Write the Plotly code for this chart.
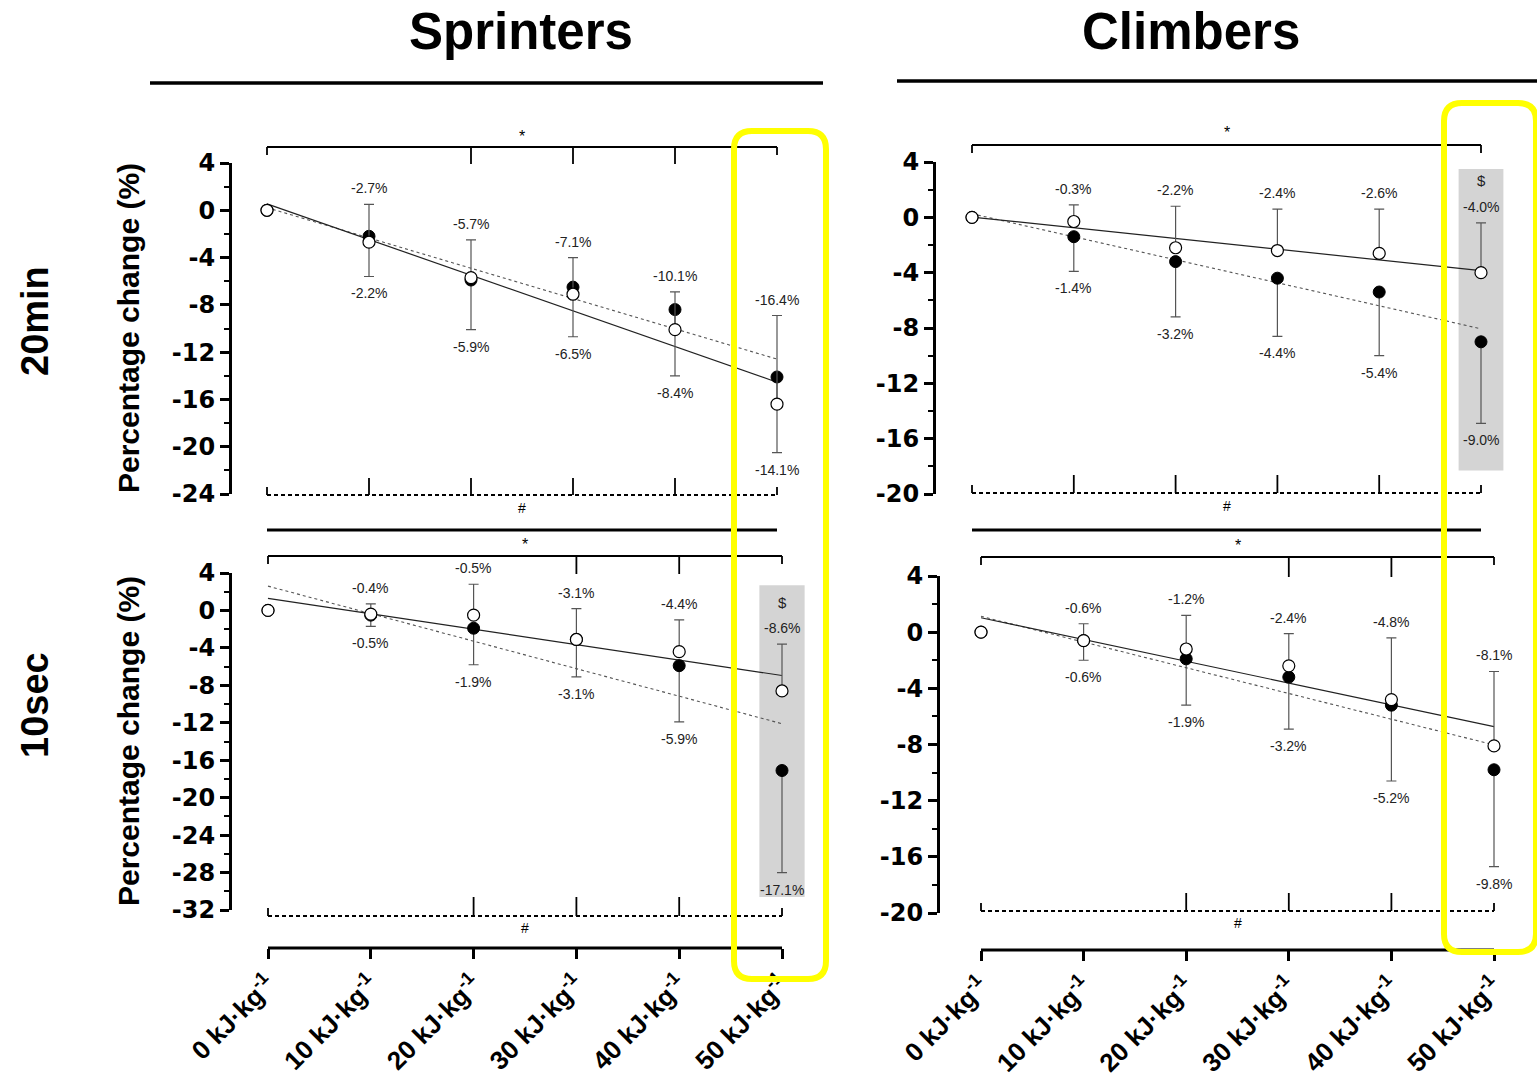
import numpy as np
import plotly.graph_objects as go

W, H = 1537, 1081

# ---------------- data ----------------
energy = [0, 10, 20, 30, 40, 50]
energy_ticktext = [f"{e} kJ·kg<sup>-1</sup>" for e in energy]

group_titles = ["Sprinters", "Climbers"]
test_titles = ["20min", "10sec"]
y_title = "Percentage change (%)"

# Sprinters, 20-min test
spr20_open = [0.0, -2.7, -5.7, -7.1, -10.1, -16.4]
spr20_open_sd = [0.0, 3.2, 3.2, 3.1, 3.2, 7.5]
spr20_filled = [0.0, -2.2, -5.9, -6.5, -8.4, -14.1]
spr20_filled_sd = [0.0, 3.4, 4.2, 4.2, 5.6, 6.4]

# Climbers, 20-min test
clm20_open = [0.0, -0.3, -2.2, -2.4, -2.6, -4.0]
clm20_open_sd = [0.0, 1.2, 3.0, 3.0, 3.2, 3.6]
clm20_filled = [0.0, -1.4, -3.2, -4.4, -5.4, -9.0]
clm20_filled_sd = [0.0, 2.5, 4.0, 4.2, 4.6, 5.9]

# Sprinters, 10-sec test
spr10_open = [0.0, -0.4, -0.5, -3.1, -4.4, -8.6]
spr10_open_sd = [0.0, 1.1, 3.3, 3.3, 3.4, 5.0]
spr10_filled = [0.0, -0.5, -1.9, -3.1, -5.9, -17.1]
spr10_filled_sd = [0.0, 1.2, 3.9, 4.0, 6.0, 10.9]

# Climbers, 10-sec test
clm10_open = [0.0, -0.6, -1.2, -2.4, -4.8, -8.1]
clm10_open_sd = [0.0, 1.2, 2.4, 2.3, 4.4, 5.3]
clm10_filled = [0.0, -0.6, -1.9, -3.2, -5.2, -9.8]
clm10_filled_sd = [0.0, 1.4, 3.3, 3.7, 5.4, 6.9]

FONT = "Liberation Sans, Arial, sans-serif"
TICKFONT = "DejaVu Sans, Liberation Sans, Arial, sans-serif"

# ---------------- panel layout (pixels) ----------------
panels = [
    dict(sub="", open=spr20_open, open_sd=spr20_open_sd,
         filled=spr20_filled, filled_sd=spr20_filled_sd,
         ymin=-24, ymax=4, axis=232, right=815, x0=267, x50=777, top=163, bottom=494,
         star_y=147, star_ticks=[20, 30, 40], star_txt=136,
         hash_y=495, hash_ticks=[10, 20, 30, 40], hash_reach=17, hash_txt=508,
         base=530, shade=None),
    dict(sub="2", open=clm20_open, open_sd=clm20_open_sd,
         filled=clm20_filled, filled_sd=clm20_filled_sd,
         ymin=-20, ymax=4, axis=936, right=1522, x0=972, x50=1481, top=162, bottom=494,
         star_y=145, star_ticks=[], star_txt=133,
         hash_y=493, hash_ticks=[10, 20, 30, 40], hash_reach=18, hash_txt=506,
         base=530, shade=(3.5, -18.3)),
    dict(sub="3", open=spr10_open, open_sd=spr10_open_sd,
         filled=spr10_filled, filled_sd=spr10_filled_sd,
         ymin=-32, ymax=4, axis=232, right=815, x0=268, x50=782, top=573, bottom=910,
         star_y=556, star_ticks=[30, 40], star_txt=544,
         hash_y=916, hash_ticks=[20, 30, 40], hash_reach=19, hash_txt=928,
         base=948, shade=(2.7, -30.6)),
    dict(sub="4", open=clm10_open, open_sd=clm10_open_sd,
         filled=clm10_filled, filled_sd=clm10_filled_sd,
         ymin=-20, ymax=4, axis=940, right=1522, x0=981, x50=1494, top=576, bottom=913,
         star_y=557, star_ticks=[30, 40], star_txt=545,
         hash_y=911, hash_ticks=[20, 30, 40], hash_reach=18, hash_txt=923,
         base=950, shade=None),
]


def px_x(p, v):
    return p["x0"] + (v - energy[0]) / (energy[-1] - energy[0]) * (p["x50"] - p["x0"])


def fx(px):
    return px / W


def fy(py):
    return 1 - py / H


def hline(x0, x1, y, width, dash="solid", color="black"):
    return dict(type="line", xref="paper", yref="paper", x0=fx(x0), x1=fx(x1),
                y0=fy(y), y1=fy(y), line=dict(color=color, width=width, dash=dash))


def vline(x, y0, y1, width, color="black"):
    return dict(type="line", xref="paper", yref="paper", x0=fx(x), x1=fx(x),
                y0=fy(y0), y1=fy(y1), line=dict(color=color, width=width))


def label(x, y, text, size, bold=False, angle=0, color="black"):
    return dict(xref="paper", yref="paper", x=fx(x), y=fy(y), text=text,
                xanchor="center", yanchor="middle", textangle=angle, showarrow=False,
                font=dict(family=FONT, size=size, color=color,
                          weight="bold" if bold else "normal"))


def rounded_box(x0, y0, x1, y1, r, color, width):
    def P(a, b):
        return f"{fx(a):.5f},{fy(b):.5f}"
    path = (f"M {P(x0 + r, y0)} L {P(x1 - r, y0)} Q {P(x1, y0)} {P(x1, y0 + r)} "
            f"L {P(x1, y1 - r)} Q {P(x1, y1)} {P(x1 - r, y1)} "
            f"L {P(x0 + r, y1)} Q {P(x0, y1)} {P(x0, y1 - r)} "
            f"L {P(x0, y0 + r)} Q {P(x0, y0)} {P(x0 + r, y0)} Z")
    return dict(type="path", xref="paper", yref="paper", path=path,
                line=dict(color=color, width=width), fillcolor="rgba(0,0,0,0)", layer="above")


fig = go.Figure()
shapes = []
annotations = []
layout = {}

for p in panels:
    s = p["sub"]
    xa, ya = "x" + s, "y" + s
    span = p["x50"] - p["x0"]
    xr = [(p["axis"] - p["x0"]) / span * 50, (p["right"] - p["x0"]) / span * 50]

    xaxis = dict(domain=[fx(p["axis"]), fx(p["right"])], range=xr, anchor=ya,
                 showgrid=False, zeroline=False, showline=False, automargin=False)
    if p["base"] > 900:
        xaxis.update(anchor="free", position=fy(p["base"]), tickmode="array",
                     tickvals=energy, ticktext=energy_ticktext, tickangle=-45,
                     ticks="outside", ticklen=10, tickwidth=3, tickcolor="black",
                     tickfont=dict(family=FONT, size=26, color="black", weight="bold"))
    else:
        xaxis.update(showticklabels=False, ticks="")
    yt = list(range(p["ymin"], p["ymax"] + 1, 4))
    yaxis = dict(domain=[fy(p["bottom"]), fy(p["top"])], range=[p["ymin"], p["ymax"]],
                 anchor=xa, showgrid=False, zeroline=False, automargin=False,
                 showline=True, linewidth=3, linecolor="black",
                 tickmode="array", tickvals=yt, ticktext=[str(v) for v in yt],
                 ticks="outside", ticklen=9, tickwidth=3, tickcolor="black",
                 tickfont=dict(family=TICKFONT, size=24, color="black", weight="bold"),
                 minor=dict(tickmode="array", tickvals=list(range(p["ymin"] + 2, p["ymax"], 4)),
                            ticks="outside", ticklen=5, tickwidth=2, tickcolor="black"))
    layout["xaxis" + s] = xaxis
    layout["yaxis" + s] = yaxis

    # shaded column behind the final stage
    if p["shade"]:
        shapes.append(dict(type="rect", xref=xa, yref=ya, x0=47.8, x1=52.2,
                           y0=p["shade"][1], y1=p["shade"][0], fillcolor="#d4d4d4",
                           line=dict(width=0), layer="below"))
        annotations.append(dict(xref=xa, yref=ya, x=50,
                                y=p["open"][-1] + p["open_sd"][-1], yshift=42,
                                text="$", showarrow=False,
                                font=dict(family=FONT, size=15, color="#222")))

    # linear trends (solid: open symbols, dotted: filled symbols)
    xs = np.array([energy[0], energy[-1]], dtype=float)
    k_o, b_o = np.polyfit(energy, p["open"], 1)
    k_f, b_f = np.polyfit(energy, p["filled"], 1)
    fig.add_trace(go.Scatter(x=xs, y=k_f * xs + b_f, mode="lines", xaxis=xa, yaxis=ya,
                             line=dict(color="#555", width=1.1, dash="dot"), showlegend=False))
    fig.add_trace(go.Scatter(x=xs, y=k_o * xs + b_o, mode="lines", xaxis=xa, yaxis=ya,
                             line=dict(color="#222", width=1.2), showlegend=False))

    zeros = [0] * len(energy)
    fig.add_trace(go.Scatter(
        x=energy, y=p["filled"], mode="markers", xaxis=xa, yaxis=ya, cliponaxis=False,
        marker=dict(size=12, color="black", line=dict(color="black", width=1)),
        error_y=dict(type="data", symmetric=False, array=zeros, arrayminus=p["filled_sd"],
                     color="#555", thickness=1.2, width=5),
        showlegend=False))
    fig.add_trace(go.Scatter(
        x=energy, y=p["open"], mode="markers", xaxis=xa, yaxis=ya, cliponaxis=False,
        marker=dict(size=12, color="white", line=dict(color="black", width=1.2)),
        error_y=dict(type="data", symmetric=False, array=p["open_sd"], arrayminus=zeros,
                     color="#555", thickness=1.2, width=5),
        showlegend=False))

    # value labels
    for i, e in enumerate(energy[1:], start=1):
        annotations.append(dict(xref=xa, yref=ya, x=e, y=p["open"][i] + p["open_sd"][i],
                                yshift=16, text=f"{p['open'][i]:.1f}%", showarrow=False,
                                font=dict(family=FONT, size=14, color="#222")))
        annotations.append(dict(xref=xa, yref=ya, x=e, y=p["filled"][i] - p["filled_sd"][i],
                                yshift=-17, text=f"{p['filled'][i]:.1f}%", showarrow=False,
                                font=dict(family=FONT, size=14, color="#222")))

    xa0, xa50 = px_x(p, 0), px_x(p, 50)
    # "*" bracket above the panel
    sy = p["star_y"]
    shapes.append(hline(xa0, xa50, sy, 1.8))
    shapes.append(vline(xa0, sy, sy + 8, 1.8))
    shapes.append(vline(xa50, sy, sy + 8, 1.8))
    for t in p["star_ticks"]:
        shapes.append(vline(px_x(p, t), sy, p["top"] + 1, 1.8))
    annotations.append(label((xa0 + xa50) / 2, p["star_txt"], "*", 16))
    # "#" dashed bracket below the panel
    hy = p["hash_y"]
    shapes.append(hline(xa0, xa50, hy, 1.8, dash="4px,3px"))
    shapes.append(vline(xa0, hy, hy - 8, 1.8))
    shapes.append(vline(xa50, hy, hy - 8, 1.8))
    for t in p["hash_ticks"]:
        shapes.append(vline(px_x(p, t), hy, hy - p["hash_reach"], 1.8))
    annotations.append(label((xa0 + xa50) / 2, p["hash_txt"], "#", 14))
    # baseline (x axis line)
    shapes.append(hline(xa0, xa50, p["base"], 3))

# column headers with rules
for title, cx, x0, x1, ly in [(group_titles[0], 521, 150, 823, 83),
                              (group_titles[1], 1191, 897, 1537, 81)]:
    annotations.append(label(cx, 32, title, 51, bold=True))
    shapes.append(hline(x0, x1, ly, 3.5))

# row headers
for txt, cy in [(test_titles[0], 321), (test_titles[1], 705)]:
    annotations.append(label(35, cy, txt, 38, bold=True, angle=-90))

# y-axis titles
for cy in [328, 741]:
    annotations.append(label(128, cy, y_title, 30, bold=True, angle=-90))

# highlight boxes around the final stage
shapes.append(rounded_box(734, 131, 826, 979, 18, "#ffff00", 6))
shapes.append(rounded_box(1444, 103, 1536, 952, 18, "#ffff00", 6))

fig.update_layout(
    template="none",
    width=W, height=H, margin=dict(l=0, r=0, t=0, b=0, pad=0),
    paper_bgcolor="white", plot_bgcolor="white",
    showlegend=False, shapes=shapes, annotations=annotations,
    font=dict(family=FONT, color="black"),
    **layout,
)

fig.write_html("out.html")
